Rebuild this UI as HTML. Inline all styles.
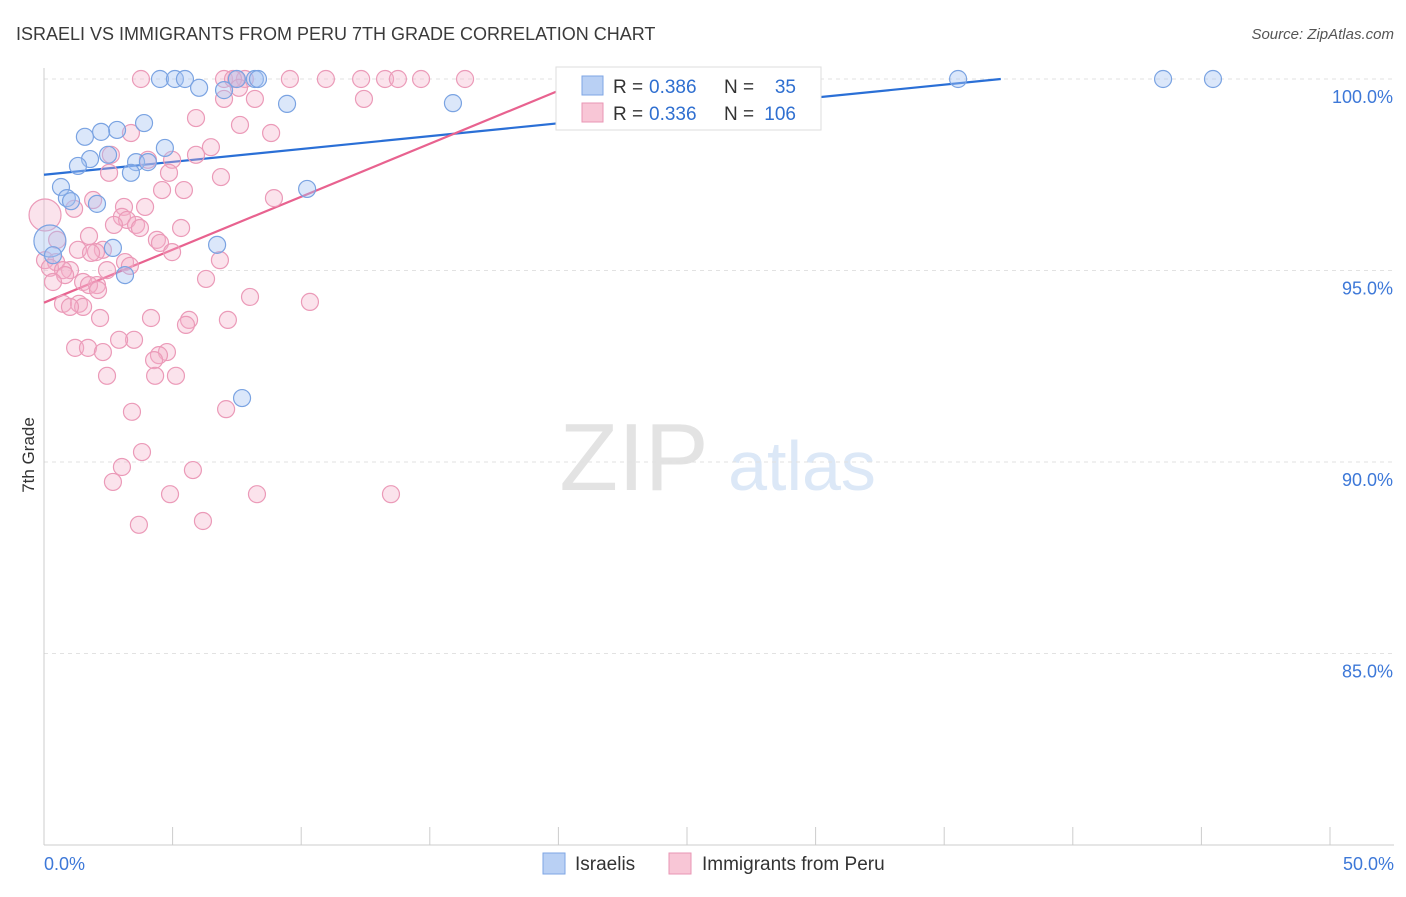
<!DOCTYPE html>
<html><head><meta charset="utf-8"><style>
body{margin:0;background:#fff;font-family:"Liberation Sans",sans-serif;}
svg text{font-family:"Liberation Sans",sans-serif;}
</style></head><body>
<svg id="chart" width="1406" height="892">
<text x="16" y="40" font-size="18" fill="#3a3a3a">ISRAELI VS IMMIGRANTS FROM PERU 7TH GRADE CORRELATION CHART</text>
<text x="1394" y="39" font-size="15" fill="#555" font-style="italic" text-anchor="end">Source: ZipAtlas.com</text>
<text x="34" y="455" font-size="17" fill="#333" transform="rotate(-90 34 455)" text-anchor="middle">7th Grade</text>
<g>
<text x="634" y="490" font-size="96" fill="#e3e3e3" font-family="Liberation Serif,serif" text-anchor="middle">ZIP</text>
<text x="802" y="490" font-size="70" fill="#dce8f7" text-anchor="middle">atlas</text>
</g>
<g id="grid"></g><g id="axes"></g><g id="lines"></g><g id="pts"></g>
<g>
<rect x="556" y="67" width="265" height="63" fill="#fff" stroke="#ddd"/>
<rect x="582" y="76" width="21" height="19" fill="#b9d0f4" stroke="#7ea6e4"/>
<text x="613" y="93" font-size="19" fill="#333">R =</text>
<text x="649" y="93" font-size="19" fill="#2f6fd0">0.386</text>
<text x="724" y="93" font-size="19" fill="#333">N =</text>
<text x="796" y="93" font-size="19" fill="#2f6fd0" text-anchor="end">35</text>
<rect x="582" y="103" width="21" height="19" fill="#f8c6d6" stroke="#e996b4"/>
<text x="613" y="120" font-size="19" fill="#333">R =</text>
<text x="649" y="120" font-size="19" fill="#2f6fd0">0.336</text>
<text x="724" y="120" font-size="19" fill="#333">N =</text>
<text x="796" y="120" font-size="19" fill="#2f6fd0" text-anchor="end">106</text>
</g>
<g>
<rect x="543" y="853" width="22" height="21" fill="#b9d0f4" stroke="#7ea6e4"/>
<text x="575" y="870" font-size="19" fill="#333">Israelis</text>
<rect x="669" y="853" width="22" height="21" fill="#f8c6d6" stroke="#e996b4"/>
<text x="702" y="870" font-size="19" fill="#333">Immigrants from Peru</text>
</g>
</svg>
<script>
const xTicks=[0,5,10,15,20,25,30,35,40,45,50];
const yTicks=[85,90,95,100];
const yTickLabels=["85.0%","90.0%","95.0%","100.0%"];
const blueX=[4.51,5.09,5.48,7.50,8.20,8.32,35.54,43.51,45.45,7.00,6.03,9.45,15.90,3.89,2.84,2.22,1.59,4.70,2.49,1.79,1.32,3.58,4.04,3.38,0.66,0.89,1.05,2.06,10.23,0.23,2.68,6.73,0.35,3.15,7.70];
const blueY=[100,100,100,100,100,100,100,100,100,99.71,99.77,99.35,99.37,98.85,98.67,98.62,98.49,98.20,98.02,97.91,97.73,97.83,97.83,97.55,97.18,96.89,96.81,96.74,97.13,95.77,95.59,95.67,95.40,94.88,91.67];
const pinkX=[3.77,7.00,7.47,7.81,9.56,10.96,12.33,13.26,13.76,14.66,16.37,7.35,7.58,12.44,7.00,8.20,5.91,7.62,3.38,8.83,6.49,2.60,5.91,4.04,4.98,2.53,4.86,6.88,4.59,5.44,8.94,1.91,3.93,3.11,1.17,0.04,3.03,3.23,2.72,3.58,3.73,5.33,1.75,0.51,4.39,4.51,1.32,2.29,2.02,4.98,1.83,0.04,6.84,0.47,3.15,3.34,0.23,1.01,2.45,0.74,0.82,6.30,0.35,1.52,2.06,1.75,2.10,8.01,10.34,0.74,1.36,1.52,1.01,4.16,2.18,7.15,5.64,5.52,3.50,2.92,1.21,1.71,2.29,4.78,4.47,4.28,2.45,4.32,5.13,7.08,3.42,3.81,3.03,5.79,2.68,4.90,8.28,13.49,6.18,3.69];
const pinkY=[100,100,100,100,100,100,100,100,100,100,100,100,99.77,99.48,99.48,99.48,98.98,98.80,98.59,98.59,98.22,98.02,98.02,97.89,97.89,97.55,97.55,97.44,97.10,97.10,96.89,96.84,96.66,96.66,96.61,96.45,96.40,96.32,96.19,96.19,96.11,96.11,95.90,95.80,95.80,95.72,95.54,95.54,95.48,95.48,95.46,95.27,95.27,95.22,95.22,95.12,95.07,95.01,95.01,95.01,94.88,94.78,94.70,94.70,94.62,94.62,94.49,94.31,94.18,94.13,94.13,94.05,94.05,93.76,93.76,93.71,93.71,93.58,93.19,93.19,92.98,92.98,92.87,92.87,92.79,92.66,92.25,92.25,92.25,91.38,91.31,90.26,89.87,89.79,89.48,89.16,89.16,89.16,88.46,88.36];
const blueLine=[[0,97.50],[37.2,100]];
const pinkLine=[[0,94.16],[20.06,99.71]];
const X=v=>44+v*25.72, Y=v=>79+(100-v)*38.3;
const NS="http://www.w3.org/2000/svg";
function mk(tag,attrs,parent){const e=document.createElementNS(NS,tag);for(const k in attrs)e.setAttribute(k,attrs[k]);document.getElementById(parent).appendChild(e);return e;}
yTicks.forEach((t,i)=>{
 const g=mk('line',{x1:44,x2:1394,y1:Y(t),y2:Y(t),stroke:'#e2e2e2','stroke-dasharray':'4,4'},'grid');
 
 
 const l=mk('text',{x:1393,y:Y(t)+24,'font-size':18,fill:'#3d78d8','text-anchor':'end'},'axes');
 l.textContent=yTickLabels[i];
 
 
});
const ax=mk('line',{x1:44,x2:1394,y1:845,y2:845,stroke:'#ccc'},'axes');


const ay=mk('line',{x1:44,x2:44,y1:68,y2:845,stroke:'#ccc'},'axes');


xTicks.forEach(t=>{const l=mk('line',{x1:X(t),x2:X(t),y1:827,y2:845,stroke:'#ccc'},'axes');
 
 });
const xl0=mk('text',{x:44,y:870,'font-size':18,fill:'#3d78d8'},'axes');xl0.textContent='0.0%';


const xl1=mk('text',{x:1394,y:870,'font-size':18,fill:'#3d78d8','text-anchor':'end'},'axes');xl1.textContent='50.0%';


function pts(xs,ys,fill,stroke,name){xs.forEach((x,i)=>{
 const big=(x<0.3&&(ys[i]===95.77||ys[i]===96.45));
 const c=mk('circle',{cx:X(x),cy:Y(ys[i]),r:big?16:8.5,fill:fill,stroke:stroke,'stroke-width':1.2},'pts');
 
 });}
pts(pinkX,pinkY,'rgba(244,175,200,0.35)','#eb9ab8','peru-point');
pts(blueX,blueY,'rgba(165,195,242,0.4)','#7aa3e2','israeli-point');
const bl=mk('line',{x1:X(blueLine[0][0]),y1:Y(blueLine[0][1]),x2:X(blueLine[1][0]),y2:Y(blueLine[1][1]),stroke:'#2a6fd6','stroke-width':2.2},'lines');


const pl=mk('line',{x1:X(pinkLine[0][0]),y1:Y(pinkLine[0][1]),x2:X(pinkLine[1][0]),y2:Y(pinkLine[1][1]),stroke:'#e8628f','stroke-width':2.2},'lines');


</script>
</body></html>
